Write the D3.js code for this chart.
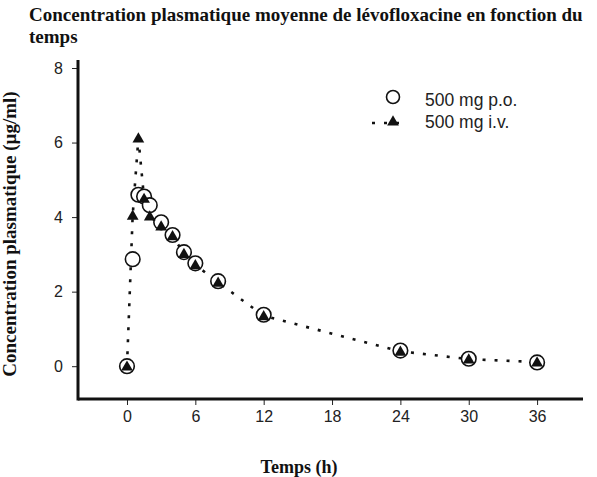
<!DOCTYPE html>
<html>
<head>
<meta charset="utf-8">
<script src="https://cdn.jsdelivr.net/npm/d3@7"></script>
<style>
  body { margin: 0; background: #fff; }
  svg { display: block; }
  .tick text { font-family: "Liberation Sans", Arial, sans-serif; font-size: 16px; fill: #222; }
  .title, .axis-label { font-family: "Liberation Serif", "Times New Roman", serif; font-weight: bold; fill: #111; }
</style>
</head>
<body>
<script>
  // Time points (h)
  const times = [0, 0.5, 1, 1.5, 2, 3, 4, 5, 6, 8, 12, 24, 30, 36];
  // 500 mg p.o. (open circles)
  const poValues = [0, 2.87, 4.6, 4.55, 4.32, 3.86, 3.52, 3.06, 2.76, 2.28, 1.38, 0.42, 0.2, 0.1];
  // 500 mg i.v. (filled triangles, dotted line)
  const ivValues = [0, 4.05, 6.12, 4.5, 4.03, 3.76, 3.5, 3.02, 2.72, 2.25, 1.35, 0.4, 0.19, 0.11];
  const xTicks = [0, 6, 12, 18, 24, 30, 36];
  const yTicks = [0, 2, 4, 6, 8];
  const seriesNames = ["500 mg p.o.", "500 mg i.v."];

  const W = 597, H = 477;
  const svg = d3.select("body").append("svg").attr("width", W).attr("height", H);

  const x = d3.scaleLinear().domain([-4.3, 40.03]).range([78, 583]);
  const y = d3.scaleLinear().domain([-0.88, 8]).range([399, 68]);

  // Title
  svg.append("text").attr("class", "title")
    .attr("x", 29).attr("y", 21).style("font-size", "19px")
    .text("Concentration plasmatique moyenne de lévofloxacine en fonction du");
  svg.append("text").attr("class", "title")
    .attr("x", 29).attr("y", 43).style("font-size", "19px")
    .text("temps");

  // Axes
  svg.append("g")
    .attr("transform", `translate(0,${y.range()[0]})`)
    .call(d3.axisBottom(x).tickValues(xTicks).tickSize(6).tickPadding(6).tickSizeOuter(0))
    .call(g => g.select(".domain").remove())
    .call(g => g.selectAll(".tick line").attr("stroke", "#222"));
  svg.append("g")
    .attr("transform", `translate(${x.range()[0]},0)`)
    .call(d3.axisLeft(y).tickValues(yTicks).tickSize(6).tickPadding(9).tickSizeOuter(0))
    .call(g => g.select(".domain").remove())
    .call(g => g.selectAll(".tick line").attr("stroke", "#222"));

  svg.append("line")
    .attr("x1", x.range()[0]).attr("x2", x.range()[1])
    .attr("y1", y.range()[0]).attr("y2", y.range()[0])
    .attr("stroke", "#111").attr("stroke-width", 3);
  svg.append("line")
    .attr("x1", x.range()[0]).attr("x2", x.range()[0])
    .attr("y1", y.range()[0] + 1.5).attr("y2", 60)
    .attr("stroke", "#111").attr("stroke-width", 3);

  // Axis labels
  svg.append("text").attr("class", "axis-label")
    .attr("x", 299).attr("y", 473).attr("text-anchor", "middle")
    .style("font-size", "18px").text("Temps (h)");
  svg.append("text").attr("class", "axis-label")
    .attr("transform", "translate(16,234) rotate(-90)").attr("text-anchor", "middle")
    .style("font-size", "19px").text("Concentration plasmatique (µg/ml)");

  // i.v. dotted line
  const line = d3.line().x(d => x(d[0])).y(d => y(d[1]));
  const ivData = times.map((t, i) => [t, ivValues[i]]);
  const poData = times.map((t, i) => [t, poValues[i]]);

  svg.append("path")
    .attr("d", line(ivData))
    .attr("fill", "none").attr("stroke", "#111")
    .attr("stroke-width", 2.6).attr("stroke-dasharray", "3,9");

  const tri = d3.symbol().type(d3.symbolTriangle).size(60);

  svg.append("g").selectAll("circle")
    .data(poData).join("circle")
    .attr("cx", d => x(d[0])).attr("cy", d => y(d[1])).attr("r", 7.3)
    .attr("fill", "#fff").attr("stroke", "#111").attr("stroke-width", 1.6);

  svg.append("g").selectAll("path")
    .data(ivData).join("path")
    .attr("transform", d => `translate(${x(d[0])},${y(d[1]) + 1})`)
    .attr("d", tri).attr("fill", "#111");

  // Legend
  const legend = svg.append("g");
  legend.append("circle").attr("cx", 393).attr("cy", 97).attr("r", 6.5)
    .attr("fill", "#fff").attr("stroke", "#111").attr("stroke-width", 1.6);
  legend.append("line").attr("x1", 372).attr("x2", 407).attr("y1", 123).attr("y2", 123)
    .attr("stroke", "#111").attr("stroke-width", 2.6).attr("stroke-dasharray", "3,9");
  legend.append("path").attr("transform", "translate(393,122)").attr("d", tri).attr("fill", "#111");
  legend.selectAll("text")
    .data(seriesNames).join("text")
    .attr("x", 425).attr("y", (d, i) => 106 + i * 22)
    .style("font-family", "'Liberation Sans', Arial, sans-serif")
    .style("font-size", "17.5px").attr("fill", "#222")
    .text(d => d);
</script>
</body>
</html>
